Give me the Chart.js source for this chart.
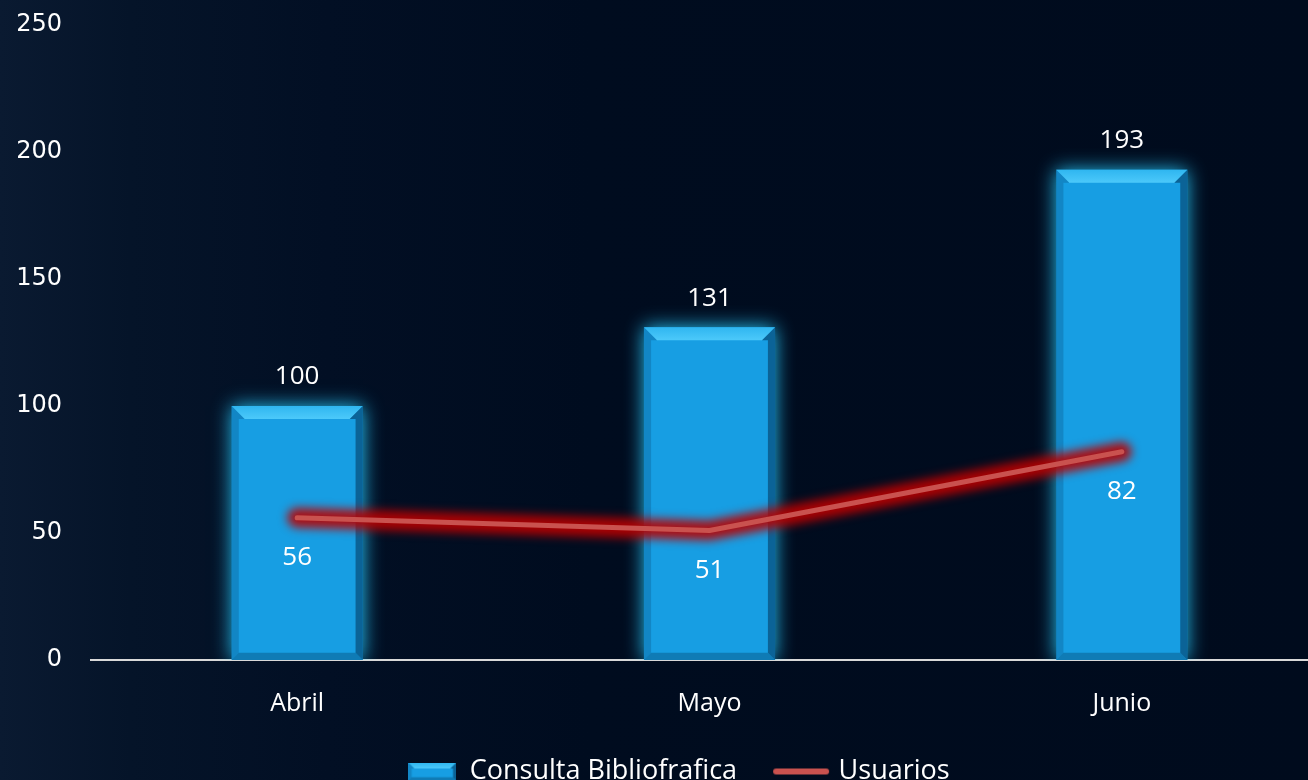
<!DOCTYPE html>
<html>
<head>
<meta charset="utf-8">
<script src="https://cdn.jsdelivr.net/npm/chart.js@4.4.1/dist/chart.umd.min.js"></script>
<style>
  html, body { margin: 0; padding: 0; width: 1308px; height: 780px; overflow: hidden;
    background: linear-gradient(90deg, #0a1a31 0%, #051429 10%, #020f24 25%, #000c1f 45%, #000b1d 100%); }
  #wrap { position: relative; width: 1330px; height: 795px; }
</style>
</head>
<body>
<div id="wrap"><canvas id="chart"></canvas></div>
<script>
'use strict';

/* ───── DATA ───────────────────────────────────────────────────────────── */
const months    = ['Abril', 'Mayo', 'Junio'];
const consultas = [100, 131, 193];
const usuarios  = [56, 51, 82];
const yMax      = 250;
const yStep     = 50;

const FONT = '"Open Sans", Lato, sans-serif';
const BAR_BLUE = '#179ee3';
const LINE_RED = '#c9524f';

/* ───── BEVEL HELPERS ──────────────────────────────────────────────────── */
function drawBevel(ctx, x0, y0, x1, y1, b) {
    ctx.save();
    // top face (bright)
    const g = ctx.createLinearGradient(0, y0, 0, y0 + b);
    g.addColorStop(0, '#2fb6f0');
    g.addColorStop(1, '#4cc9fa');
    ctx.fillStyle = g;
    ctx.beginPath();
    ctx.moveTo(x0, y0); ctx.lineTo(x1, y0); ctx.lineTo(x1 - b, y0 + b); ctx.lineTo(x0 + b, y0 + b);
    ctx.closePath(); ctx.fill();
    const s = Math.max(3, b * 0.55);
    // right side (dark)
    ctx.fillStyle = 'rgba(4,60,100,0.6)';
    ctx.beginPath();
    ctx.moveTo(x1, y0); ctx.lineTo(x1, y1); ctx.lineTo(x1 - s, y1 - s); ctx.lineTo(x1 - s, y0 + b);
    ctx.lineTo(x1 - b, y0 + b);
    ctx.closePath(); ctx.fill();
    // bottom side (dark)
    ctx.fillStyle = 'rgba(6,80,125,0.45)';
    ctx.beginPath();
    ctx.moveTo(x0, y1); ctx.lineTo(x1, y1); ctx.lineTo(x1 - s, y1 - s); ctx.lineTo(x0 + s, y1 - s);
    ctx.closePath(); ctx.fill();
    // left side (slightly dark)
    ctx.fillStyle = 'rgba(10,90,140,0.35)';
    ctx.beginPath();
    ctx.moveTo(x0, y0); ctx.lineTo(x0 + b, y0 + b); ctx.lineTo(x0 + s, y0 + b); ctx.lineTo(x0 + s, y1 - s);
    ctx.lineTo(x0, y1);
    ctx.closePath(); ctx.fill();
    ctx.restore();
}

function makeBarIcon() {
    const c = document.createElement('canvas');
    c.width = 48; c.height = 18;
    const ctx = c.getContext('2d');
    ctx.fillStyle = BAR_BLUE;
    ctx.fillRect(0, 0, 48, 18);
    drawBevel(ctx, 0, 0, 48, 18, 6);
    return c;
}

function makeLineIcon() {
    const c = document.createElement('canvas');
    c.width = 58; c.height = 8;
    const ctx = c.getContext('2d');
    ctx.strokeStyle = LINE_RED;
    ctx.lineWidth = 6;
    ctx.lineCap = 'round';
    ctx.beginPath(); ctx.moveTo(4, 4); ctx.lineTo(54, 4); ctx.stroke();
    return c;
}

/* ───── GLOW + BEVEL PLUGIN ────────────────────────────────────────────── */
const fxPlugin = {
    id: 'fx',
    afterLayout(chart) {
        // nudge legend to sit where the original does
        chart.legend.left += 15;
        chart.legend.right += 15;
    },
    beforeDatasetDraw(chart, args) {
        const ctx = chart.ctx;
        const ds = chart.data.datasets[args.index];
        if (ds.type === 'bar') {
            ctx.save();
            ctx.shadowColor = 'rgba(40,205,255,0.95)';
            ctx.shadowBlur = 18;
            return;
        }
        // red halo under the line, following the library's point positions
        const pts = args.meta.data;
        ctx.save();
        ctx.filter = 'blur(5px)';
        ctx.strokeStyle = 'rgba(185,0,0,0.9)';
        ctx.lineWidth = 20;
        ctx.lineCap = 'round';
        ctx.lineJoin = 'round';
        ctx.beginPath();
        pts.forEach((p, i) => (i ? ctx.lineTo(p.x, p.y) : ctx.moveTo(p.x, p.y)));
        ctx.stroke();
        ctx.restore();
        ctx.save();
    },
    afterDatasetDraw(chart, args) {
        const ctx = chart.ctx;
        ctx.restore();
        const ds = chart.data.datasets[args.index];
        if (ds.type !== 'bar') return;
        args.meta.data.forEach(bar => {
            const { x, y, base, width } = bar.getProps(['x', 'y', 'base', 'width'], true);
            drawBevel(ctx, x - width / 2, y, x + width / 2, base, 13);
        });
    },
};

/* ───── DATA LABEL PLUGIN ──────────────────────────────────────────────── */
const labelPlugin = {
    id: 'valueLabels',
    afterDatasetsDraw(chart) {
        const ctx = chart.ctx;
        ctx.save();
        ctx.fillStyle = '#ffffff';
        ctx.font = `26px ${FONT}`;
        ctx.textAlign = 'center';
        ctx.textBaseline = 'middle';
        chart.data.datasets.forEach((ds, i) => {
            const meta = chart.getDatasetMeta(i);
            meta.data.forEach((el, j) => {
                const off = ds.type === 'bar' ? -29 : 40;
                ctx.fillText(String(ds.data[j]), el.x, el.y + off);
            });
        });
        ctx.restore();
    },
};

/* ───── CHART ──────────────────────────────────────────────────────────── */
const barIcon  = makeBarIcon();
const lineIcon = makeLineIcon();

new Chart(document.getElementById('chart').getContext('2d'), {
    data: {
        labels: months,
        datasets: [
            {
                type: 'bar',
                label: 'Consulta Bibliofrafica',
                data: consultas,
                backgroundColor: BAR_BLUE,
                borderWidth: 0,
                categoryPercentage: 1,
                barPercentage: 0.318,
                order: 1,
            },
            {
                type: 'line',
                label: 'Usuarios',
                data: usuarios,
                borderColor: LINE_RED,
                backgroundColor: LINE_RED,
                borderWidth: 5,
                borderCapStyle: 'round',
                borderJoinStyle: 'round',
                pointRadius: 0,
                tension: 0,
                fill: false,
                order: 0,
            },
        ],
    },
    options: {
        responsive: true, maintainAspectRatio: false, animation: false,
        layout: { padding: { top: 25, right: 2, left: 0, bottom: 0 } },
        plugins: {
            tooltip: { enabled: false },
            legend: {
                position: 'bottom',
                labels: {
                    color: '#ffffff',
                    font: { family: FONT, size: 27 },
                    usePointStyle: true,
                    pointStyleWidth: 48,
                    boxHeight: 20,
                    padding: 40,
                    generateLabels(chart) {
                        const items = Chart.defaults.plugins.legend.labels.generateLabels(chart);
                        items.sort((a, b) => a.datasetIndex - b.datasetIndex);
                        items.forEach(it => { it.pointStyle = it.datasetIndex === 0 ? barIcon : lineIcon; });
                        return items;
                    },
                },
            },
        },
        scales: {
            x: {
                grid: { display: false, drawTicks: false },
                border: { display: true, color: '#d9d9d9', width: 2 },
                ticks: { color: '#ffffff', font: { family: FONT, size: 25 }, padding: 29 },
                afterFit: s => { s.height = 58; },
            },
            y: {
                min: 0, max: yMax,
                grid: { display: false, drawTicks: false },
                border: { display: false },
                ticks: { stepSize: yStep, color: '#ffffff', font: { family: '"DejaVu Sans", sans-serif', size: 24 }, padding: 29 },
                afterFit: s => { s.width = 91; s.paddingTop = 0; s.paddingBottom = 0; },
            },
        },
    },
    plugins: [fxPlugin, labelPlugin],
});
</script>
</body>
</html>
